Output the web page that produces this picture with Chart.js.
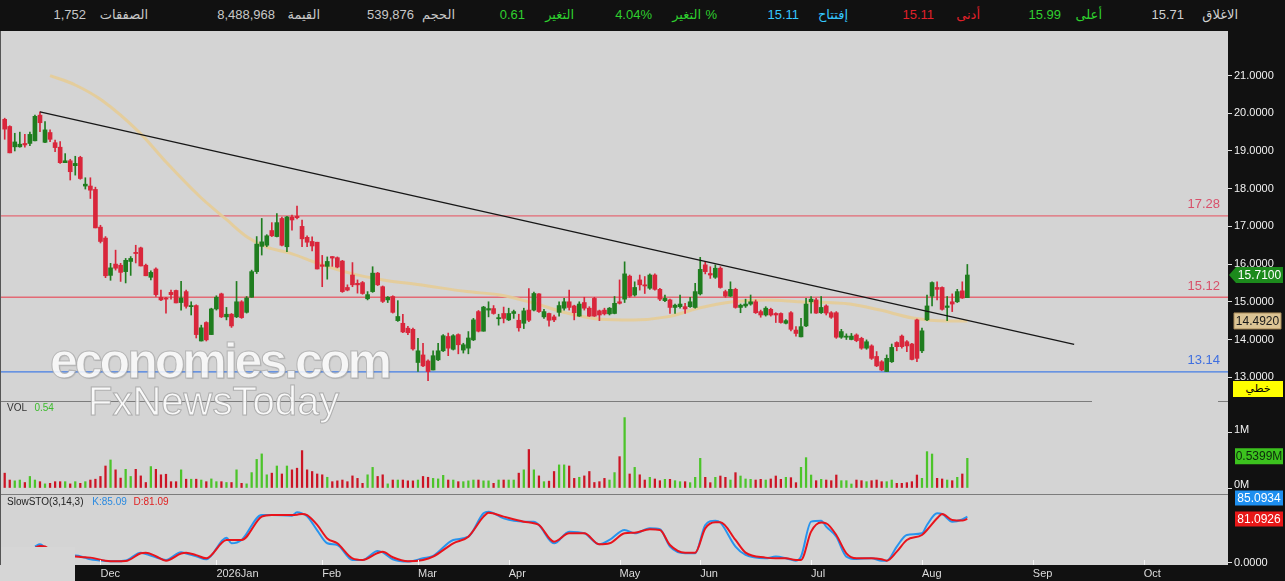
<!DOCTYPE html>
<html><head><meta charset="utf-8">
<script src="https://cdn.jsdelivr.net/npm/chart.js@4.4.1/dist/chart.umd.min.js"></script>
<style>
html,body{margin:0;padding:0;background:#111;}
body{position:relative;width:1285px;height:581px;overflow:hidden;font-family:"Liberation Sans","DejaVu Sans",Arial,sans-serif;}
.a{position:absolute;white-space:nowrap;}
.h{position:absolute;top:7px;font-size:13px;line-height:16px;white-space:nowrap;}
canvas{position:absolute;left:0;}
</style></head><body>
<div class="a" style="left:0;top:31px;width:1228px;height:371px;background:#d4d4d4"></div>
<div class="a" style="left:0;top:402px;width:1228px;height:92px;background:#d4d4d4"></div>
<div class="a" style="left:0;top:495px;width:1228px;height:70px;background:#d4d4d4"></div>
<div class="a" style="left:0;top:401px;width:1092px;height:1px;background:#7c7c7c"></div>
<div class="a" style="left:1218px;top:401px;width:10px;height:1px;background:#7c7c7c"></div>
<div class="a" style="left:0;top:494px;width:1228px;height:1px;background:#7c7c7c"></div>
<canvas id="cp" width="1285" height="368" style="top:32px"></canvas>
<canvas id="cv" width="1285" height="91" style="top:402px"></canvas>
<canvas id="cs" width="1285" height="95" style="top:486px"></canvas>
<div class="a" style="left:0;top:547px;width:75px;height:34px;background:#d6d6d6"></div>
<div class="a" style="left:0;top:31px;width:1px;height:534px;background:#555"></div>

<div class="a" style="left:50px;top:336px;font:bold 50px 'Liberation Sans';line-height:50px;letter-spacing:-3px;color:rgba(255,255,255,0.86);-webkit-text-stroke:1px rgba(165,165,165,0.75);text-shadow:1px 1px 1px rgba(0,0,0,0.12)">economies.com</div>
<div class="a" style="left:88px;top:381px;font:40px 'Liberation Sans';line-height:40px;color:rgba(255,255,255,0.86);-webkit-text-stroke:1px rgba(160,160,160,0.8)">FxNewsToday</div>

<div class="a" style="left:7px;top:402px;font-size:10px;line-height:12px;color:#333">VOL <span style="color:#3bbb2b;margin-left:5px">0.54</span></div>
<div class="a" style="left:7px;top:496px;font-size:10px;line-height:12px;color:#222">SlowSTO(3,14,3) <span style="color:#2a8ae0;margin-left:6px">K:85.09</span> <span style="color:#e02020;margin-left:4px">D:81.09</span></div>
<div class="a" style="left:1233px;top:381px;width:50px;height:16px;background:#ffff00;color:#000;font-size:11px;line-height:16px;text-align:center;font-family:'DejaVu Sans'">خطي</div>

<div id="hdr"></div>

<script>
// ---------------- DATA ----------------
const open = [
19.84,19.65,19.11,19.11,19.20,19.20,19.27,19.95,19.23,19.49,
19.22,19.10,18.69,18.74,18.61,18.83,18.07,18.07,17.98,16.98,
16.69,15.70,16.00,15.97,15.80,16.07,16.31,16.43,15.97,15.65,
15.87,15.12,15.10,15.25,15.30,14.98,15.27,14.87,14.90,13.96,
14.45,14.13,14.81,15.21,14.60,14.67,14.60,15.00,14.72,15.12,
15.80,16.47,16.50,16.89,16.73,17.21,16.46,17.25,17.27,17.00,
16.71,16.60,16.58,15.98,15.94,16.20,16.17,16.08,15.38,15.71,
15.49,15.51,15.08,15.27,15.76,15.40,15.05,15.14,14.50,14.43,
14.30,14.27,13.39,13.59,13.43,13.19,13.46,13.70,14.08,13.74,
14.13,13.72,13.77,13.99,14.74,14.22,14.78,14.82,14.55,14.69,
14.52,14.69,14.51,14.43,14.78,14.78,15.21,14.60,14.69,14.60,
14.72,14.83,15.00,14.89,14.62,14.98,14.83,15.09,14.76,14.78,
14.68,14.69,15.00,15.07,15.68,15.18,15.58,15.45,15.36,15.71,
15.33,15.03,15.05,14.85,14.87,14.87,14.87,14.85,15.21,15.98,
15.75,15.65,15.89,15.27,15.15,15.33,14.85,14.89,14.94,15.00,
14.74,14.65,14.80,14.69,14.69,14.43,14.71,14.25,14.07,14.36,
15.00,15.05,14.71,14.89,14.71,14.71,14.06,14.06,14.00,14.12,
14.03,13.77,13.83,13.55,13.41,13.15,13.41,13.92,14.09,13.94,
13.88,14.52,13.70,14.52,15.15,15.38,15.38,14.85,15.00,15.00,
15.29,15.11];
const high = [
19.87,19.67,19.47,19.50,19.44,19.50,19.95,20.04,19.78,19.56,
19.29,19.25,18.93,18.78,18.86,18.86,18.29,18.29,18.04,17.03,
16.73,16.02,16.37,16.02,16.15,16.20,16.50,16.45,16.00,15.82,
15.90,15.31,15.12,15.31,15.31,15.54,15.31,15.00,14.92,14.38,
14.47,14.83,15.16,15.23,14.85,14.69,15.54,15.03,15.14,15.84,
16.73,17.21,16.78,17.10,17.34,17.25,17.27,17.30,17.54,17.17,
16.75,16.72,16.58,16.23,16.19,16.20,16.19,16.10,15.45,16.04,
15.58,15.54,15.27,15.93,15.78,15.42,15.14,15.16,15.03,14.67,
14.35,14.30,14.03,13.90,13.46,13.70,13.90,14.13,14.17,14.13,
14.15,13.90,14.21,14.56,14.77,14.88,15.00,14.90,14.67,14.86,
14.83,14.78,14.67,14.83,15.35,15.26,15.22,14.80,14.70,14.65,
15.00,15.09,15.31,14.91,15.00,15.12,14.87,15.12,14.78,14.83,
14.85,15.14,15.58,16.06,15.71,15.53,15.71,15.67,15.74,15.74,
15.36,15.18,15.07,14.94,15.18,14.96,15.12,15.49,16.18,16.06,
15.93,15.98,15.93,15.31,15.53,15.36,14.94,15.07,15.18,15.05,
14.78,14.87,14.83,14.71,14.71,14.53,14.74,14.34,14.56,15.09,
15.14,15.09,15.14,14.92,14.74,14.74,14.27,14.15,14.16,14.15,
14.06,13.99,13.86,13.68,13.44,13.59,13.88,13.94,14.12,13.97,
13.90,14.54,14.30,15.18,15.53,15.53,15.40,15.14,15.21,15.33,
15.53,15.99];
const low = [
19.31,18.95,19.00,19.10,19.10,19.14,19.27,19.51,19.22,19.25,
18.98,18.67,18.69,18.23,18.36,18.25,17.99,17.74,16.96,16.56,
15.64,15.57,15.84,15.54,15.50,15.70,16.03,15.95,15.69,15.58,
15.14,15.03,14.70,15.07,14.97,14.78,14.83,14.65,14.04,13.96,
13.96,14.13,14.78,14.58,14.52,14.32,14.58,14.56,14.70,15.12,
15.75,16.24,16.46,16.73,16.72,16.48,16.33,16.90,17.20,16.46,
16.46,16.35,15.87,15.40,15.60,15.94,15.90,15.25,15.29,15.40,
15.23,15.20,15.05,15.25,15.43,14.98,14.98,14.70,14.48,14.18,
14.13,13.72,13.15,13.28,12.91,13.19,13.44,13.68,13.57,13.72,
13.62,13.64,13.62,13.97,14.20,14.22,14.60,14.67,14.38,14.44,
14.50,14.56,14.22,14.29,14.47,14.76,14.72,14.56,14.35,14.47,
14.62,14.78,14.78,14.52,14.61,14.78,14.61,14.61,14.50,14.65,
14.65,14.68,14.94,14.98,15.12,15.15,15.31,15.22,15.33,15.31,
15.03,15.00,14.69,14.69,14.83,14.69,14.85,14.83,15.18,15.74,
15.62,15.62,15.36,15.12,15.14,14.83,14.71,14.85,14.91,14.69,
14.59,14.62,14.62,14.45,14.43,14.41,14.23,14.09,14.07,14.34,
14.70,14.69,14.69,14.65,14.56,14.03,14.03,14.00,13.99,13.94,
13.74,13.74,13.47,13.28,13.17,13.15,13.39,13.70,13.77,13.68,
13.46,13.41,13.65,14.50,14.89,15.05,14.78,14.50,14.74,14.98,
15.09,15.11];
const close = [
19.58,18.95,19.24,19.18,19.16,19.44,19.92,19.75,19.56,19.31,
19.09,18.69,18.74,18.45,18.67,18.27,18.12,17.96,16.96,16.60,
15.69,15.90,15.89,15.78,16.10,16.15,16.28,15.95,15.69,15.78,
15.19,15.05,15.07,15.19,14.97,15.10,14.88,14.90,14.13,14.31,
13.99,14.81,15.12,14.60,14.67,14.36,15.00,14.58,15.10,15.80,
16.53,16.59,16.75,16.75,17.10,16.50,17.25,17.17,17.23,16.67,
16.58,16.48,15.87,15.94,16.07,16.16,15.92,15.27,15.31,15.45,
15.45,15.22,15.19,15.76,15.45,15.01,15.12,14.72,14.61,14.20,
14.18,13.75,13.70,13.30,13.15,13.57,13.70,14.10,13.77,14.10,
13.86,13.86,14.04,14.52,14.22,14.86,14.82,14.69,14.58,14.56,
14.69,14.74,14.31,14.76,14.51,15.22,14.74,14.74,14.51,14.52,
14.90,15.00,14.85,14.71,14.94,14.83,14.62,14.62,14.65,14.68,
14.83,14.96,14.96,15.74,15.15,15.38,15.45,15.42,15.71,15.33,
15.07,15.09,14.85,14.91,14.94,14.81,15.00,15.27,15.86,15.80,
15.71,15.89,15.38,15.15,15.33,14.85,14.91,14.94,15.00,14.71,
14.65,14.83,14.65,14.65,14.45,14.50,14.27,14.16,14.34,14.94,
15.07,14.70,14.85,14.70,14.59,14.06,14.21,14.09,14.09,13.97,
13.77,13.94,13.50,13.30,13.19,13.50,13.79,13.81,13.81,13.83,
13.47,13.50,14.23,14.89,15.51,15.33,14.80,14.89,14.94,15.27,
15.10,15.71];
// volume in millions
const volume = [
.27,.145,.13,.145,.10,.21,.145,.115,.075,.085,
.115,.115,.115,.075,.115,.085,.115,.145,.16,.21,
.40,.51,.33,.18,.34,.21,.34,.22,.10,.39,
.34,.24,.25,.115,.115,.33,.16,.16,.16,.145,
.115,.165,.115,.115,.10,.10,.33,.085,.075,.28,
.52,.62,.24,.27,.40,.255,.40,.33,.36,.68,
.33,.30,.255,.24,.195,.115,.13,.145,.115,.22,
.175,.085,.24,.375,.21,.24,.075,.145,.145,.145,
.13,.13,.145,.21,.195,.175,.165,.23,.145,.145,
.115,.115,.13,.145,.145,.13,.13,.085,.145,.145,
.145,.145,.27,.33,.70,.33,.22,.115,.125,.30,
.42,.42,.40,.175,.195,.22,.30,.10,.115,.175,
.145,.28,.57,1.28,.255,.375,.24,.145,.194,.164,
.133,.158,.158,.133,.115,.115,.097,.194,.539,.194,
.097,.194,.218,.194,.145,.279,.218,.164,.158,.145,
.158,.145,.164,.218,.158,.194,.188,.097,.376,.552,
.236,.133,.158,.145,.133,.236,.133,.133,.073,.145,
.133,.115,.133,.145,.115,.115,.145,.085,.085,.097,
.115,.236,.176,.661,.618,.176,.164,.145,.133,.194,
.255,.539876];
// moving average (read points: candle index, value)
const maIdx = [9,14,19.2,26.8,32.2,38.8,44.1,48.1,52,56.6,62,68.5,75.1,82.4,91.7,98.3,104.8,111.6,118.1,124.7,131.4,138,144.5,151.2,157.8,167.7,173.7,180.2,186.9,191];
const maVal = [21.0,20.75,20.35,19.48,18.68,17.78,17.17,16.72,16.45,16.29,16.03,15.76,15.58,15.45,15.27,15.18,14.97,14.70,14.54,14.52,14.60,14.84,15.00,15.05,15.00,14.94,14.78,14.57,14.49,14.492];
// trend line endpoints
const trendIdx = [7, 212.2];
const trendVal = [20.04, 13.87];
// horizontal levels
const levels = [17.28, 15.12, 13.14];
// slow stochastic (read points)
const stochIdx = [6,7,8,9,10,11,12,14,16,17,20,22,24,27,28,30,32,35,36,38,40,44,45,47,51,53,57,58,59,60,62,64,66,69,71,74,75,77,80,83,85,89,92,95,96,99,103,105,106,109,112,115,118,120,123,125,128,130,132,135,137,139,141,142,145,147,151,153,155,157,158,160,162,163,165,167,169,172,174,175,177,179,182,183,185,186,188,190,191];
const stochK = [30,34,28,20,14,12,13,13.1,9,6.3,3.2,2.5,4,18.6,16,10,5.1,19.3,17,12,6.3,46.3,35.9,42.1,88.4,88.4,87,93.3,91,86,60,36,32.8,5.1,5.1,21.7,19,6.3,2.0,8.2,12.5,42.1,48.2,91.4,94.5,82,76,76,69.8,35.9,57.5,54.4,34,42.1,60.6,54.4,63.6,61.8,29.8,17.4,17.4,69.8,77.9,74.2,29.8,14.4,8.2,11.3,8.2,3.8,11.3,76,77.9,66.7,48.2,11.3,6.9,8.2,3.8,3.8,29.8,51.3,54.4,69.8,91.4,90.2,76,80,85.0934];
const stochD = [27,31,30,24,20,15,13,11.3,10,9.4,3.8,2.5,3,17.4,18.6,12,3.8,17,18.6,14,8.2,42,42.1,42.1,85.3,88.4,88.4,89,90.2,88,70,45,35.9,8,5.1,18,20.5,10,2.5,5.1,11.3,35.9,48.2,85.3,92.7,85.3,76,72.9,69.8,39,54.4,54.4,34,35.9,54.4,55.6,61.8,60.6,32.8,18.6,18.6,63.6,74.8,74.8,42.1,18.6,9.4,8.2,8.2,5.1,5.1,57.5,74.2,72.9,51.3,17.4,8.2,8.2,6.3,3.8,20.5,42.1,51.3,60.6,82.2,90.2,79.1,78,81.0926];
// month ticks
const monthLabels = ['Dec','2026Jan','Feb','Mar','Apr','May','Jun','Jul','Aug','Sep','Oct'];
const monthPos = [19,42,63,82,100,122,138,160,182,204,226];
const priceTicks = [13,14,15,16,17,18,19,20,21];
// header (text, right edge, colour)
const header = [
 ['الاغلاق',1238,'#d0d0d0'],['15.71',1184,'#d0d0d0'],
 ['أعلى',1102,'#2fd02f'],['15.99',1061,'#2fd02f'],
 ['أدنى',980,'#e0202a'],['15.11',934,'#e0202a'],
 ['إفتتاح',848,'#35c8ff'],['15.11',799,'#35c8ff'],
 ['%',717,'#2fd02f'],['التغير',701,'#2fd02f'],['4.04%',652,'#2fd02f'],
 ['التغير',574,'#2fd02f'],['0.61',525,'#2fd02f'],
 ['الحجم',455,'#c8c8c8'],['539,876',414,'#c8c8c8'],
 ['القيمة',320,'#c8c8c8'],['8,488,968',275,'#c8c8c8'],
 ['الصفقات',148,'#c8c8c8'],['1,752',86,'#c8c8c8']];

// ---------------- RENDER ----------------
const hdr = document.getElementById('hdr');
header.forEach(([t, r, c]) => {
  const s = document.createElement('div');
  s.className = 'h'; s.textContent = t; s.style.color = c; s.style.right = (1285 - r) + 'px';
  hdr.appendChild(s);
});

Chart.defaults.font.family = "'Liberation Sans', 'DejaVu Sans', sans-serif";
const XMIN = -0.9325, XMAX = 242.72;
const GREEN = '#1f7d1f', RED = '#d9263b';
const VGREEN = '#4cc42a', VRED = '#cc1424';
const N = close.length;
const isUp = i => close[i] >= open[i];

function badge(ctx, x0, x1, yc, h, bg, fg, text, arrowX, border) {
  ctx.save();
  ctx.fillStyle = bg;
  ctx.beginPath();
  if (arrowX != null) {
    ctx.moveTo(arrowX, yc); ctx.lineTo(x0, yc - h / 2); ctx.lineTo(x1, yc - h / 2);
    ctx.lineTo(x1, yc + h / 2); ctx.lineTo(x0, yc + h / 2); ctx.closePath();
  } else ctx.rect(x0, yc - h / 2, x1 - x0, h);
  ctx.fill();
  if (border) { ctx.strokeStyle = border; ctx.lineWidth = 1; ctx.stroke(); }
  ctx.fillStyle = fg; ctx.font = "12px 'Liberation Sans'";
  ctx.textAlign = 'center'; ctx.textBaseline = 'middle';
  ctx.fillText(text, (x0 + x1) / 2, yc + 0.5);
  ctx.restore();
}

const yAxisBase = (min, max, ticks, fmt, labelOffset) => ({
  position: 'right', min, max, bounds: 'data',
  afterFit(a) { a.width = 57; a.paddingTop = 0; a.paddingBottom = 0; },
  afterBuildTicks(a) { a.ticks = ticks.map(v => ({ value: v })); },
  ticks: { color: '#f2f2f2', font: { size: 11 }, padding: 2, callback: fmt, autoSkip: false, labelOffset: labelOffset || 0 },
  grid: { drawOnChartArea: false, drawTicks: true, tickLength: 4, color: '#e0e0e0' },
  border: { display: false }
});
const xHidden = { type: 'linear', min: XMIN, max: XMAX, display: false, offset: false, bounds: 'data' };
const common = {
  responsive: false, animation: false, devicePixelRatio: 1,
  layout: { padding: 0, autoPadding: false },
  plugins: { legend: { display: false }, tooltip: { enabled: false } },
  events: []
};

// price chart
const pricePlugin = {
  id: 'pricePlugin',
  afterDraw(chart) {
    const ctx = chart.ctx, y = chart.scales.y;
    const lvCol = ['#d8506a', '#d8506a', '#3f6fe0'];
    ctx.save();
    ctx.font = "13px 'Liberation Sans'"; ctx.textAlign = 'right'; ctx.textBaseline = 'middle';
    levels.forEach((v, i) => { ctx.fillStyle = lvCol[i]; ctx.fillText(v.toFixed(2), 1220, y.getPixelForValue(v) - 11); });
    ctx.restore();
    badge(ctx, 1236, 1283, y.getPixelForValue(close[N - 1]), 16, '#1c8a1c', '#ffffff', close[N - 1].toFixed(4), 1229);
    badge(ctx, 1234, 1281, y.getPixelForValue(maVal[maVal.length - 1]), 16, '#dcc494', '#1a1a1a', maVal[maVal.length - 1].toFixed(4), null, '#a88a58');
  }
};
const levelColors = ['rgba(228,100,112,0.95)', 'rgba(228,100,112,0.95)', 'rgba(60,120,230,0.95)'];
new Chart(document.getElementById('cp'), {
  type: 'bar',
  data: {
    datasets: [
      { type: 'line', data: trendIdx.map((x, i) => ({ x, y: trendVal[i] })), borderColor: '#161616', borderWidth: 1.3, pointRadius: 0, order: 0 },
      { type: 'bar', data: open.map((o, i) => ({ x: i, y: [o, close[i]] })), backgroundColor: c => isUp(c.dataIndex) ? GREEN : RED,
        barThickness: 4, minBarLength: 1, grouped: false, borderWidth: 0, order: 1 },
      { type: 'bar', data: low.map((l, i) => ({ x: i, y: [l, high[i]] })), backgroundColor: c => isUp(c.dataIndex) ? GREEN : RED,
        barThickness: 1, grouped: false, borderWidth: 0, order: 2 },
      { type: 'line', data: maIdx.map((x, i) => ({ x, y: maVal[i] })), borderColor: 'rgba(230,204,150,0.9)', borderWidth: 3,
        pointRadius: 0, cubicInterpolationMode: 'monotone', order: 3 },
      ...levels.map((v, i) => ({ type: 'line', data: [{ x: XMIN, y: v }, { x: XMAX, y: v }], borderColor: levelColors[i], borderWidth: 1.4, pointRadius: 0, order: 4 }))
    ]
  },
  options: Object.assign({}, common, {
    scales: { x: xHidden, y: yAxisBase(12.395, 22.156, priceTicks, v => v.toFixed(4)) }
  }),
  plugins: [pricePlugin]
});

// volume chart
const volPlugin = {
  id: 'volPlugin',
  afterDraw(chart) {
    const y = chart.scales.y, v = volume[N - 1];
    badge(chart.ctx, 1235, 1283, y.getPixelForValue(v) - 2, 16, '#3cc21e', '#0c2a0c', v.toFixed(4) + 'M');
  }
};
new Chart(document.getElementById('cv'), {
  type: 'bar',
  data: {
    datasets: [{ data: volume.map((v, i) => ({ x: i, y: v })), backgroundColor: c => isUp(c.dataIndex) ? VGREEN : VRED,
      barThickness: 1.6, grouped: false, borderWidth: 0 }]
  },
  options: Object.assign({}, common, {
    scales: { x: xHidden, y: yAxisBase(-0.0909, 1.5636, [0, 1], v => v + 'M', -3) }
  }),
  plugins: [volPlugin]
});

// stochastic chart (canvas starts 8px above the panel so the top badge can overlap the separator)
const stoPlugin = {
  id: 'stoPlugin',
  afterDraw(chart) {
    const ctx = chart.ctx, x = chart.scales.x, y = chart.scales.y, area = chart.chartArea;
    ctx.save();
    ctx.strokeStyle = '#f4f4f4'; ctx.lineWidth = 1; ctx.beginPath();
    x.ticks.forEach(t => { const px = Math.round(x.getPixelForValue(t.value)) + 0.5; ctx.moveTo(px, area.bottom - 5); ctx.lineTo(px, area.bottom); });
    ctx.stroke(); ctx.restore();
    const k = stochK[stochK.length - 1], d = stochD[stochD.length - 1];
    const dy = y.getPixelForValue(d);
    const ky = Math.min(y.getPixelForValue(k), dy - 21);
    badge(ctx, 1235, 1283, ky, 15, '#1e8ff0', '#ffffff', k.toFixed(4));
    badge(ctx, 1235, 1283, dy, 15, '#e81818', '#ffffff', d.toFixed(4));
  }
};
new Chart(document.getElementById('cs'), {
  type: 'line',
  data: {
    datasets: [
      { data: stochIdx.map((x, i) => ({ x, y: stochD[i] })), borderColor: '#e8141c', borderWidth: 2, pointRadius: 0, cubicInterpolationMode: 'monotone' },
      { data: stochIdx.map((x, i) => ({ x, y: stochK[i] })), borderColor: '#2794ee', borderWidth: 2, pointRadius: 0, cubicInterpolationMode: 'monotone' }
    ]
  },
  options: Object.assign({}, common, {
    layout: { padding: { top: 8, left: 0, right: 0, bottom: 0 }, autoPadding: false },
    scales: {
      x: { type: 'linear', position: 'bottom', min: XMIN, max: XMAX, offset: false, bounds: 'data',
        afterFit(a) { a.height = 16; a.paddingLeft = 0; a.paddingRight = 0; },
        afterBuildTicks(a) { a.ticks = monthPos.map(v => ({ value: v })); },
        ticks: { align: 'start', color: '#dcdcdc', font: { size: 11 }, padding: 2, maxRotation: 0, minRotation: 0, autoSkip: false,
          callback: (v, i) => monthLabels[i] },
        grid: { display: false, drawTicks: false }, border: { display: false } },
      y: yAxisBase(-4.26, 127.2, [0], v => v.toFixed(4))
    }
  }),
  plugins: [stoPlugin]
});
</script>
</body></html>
